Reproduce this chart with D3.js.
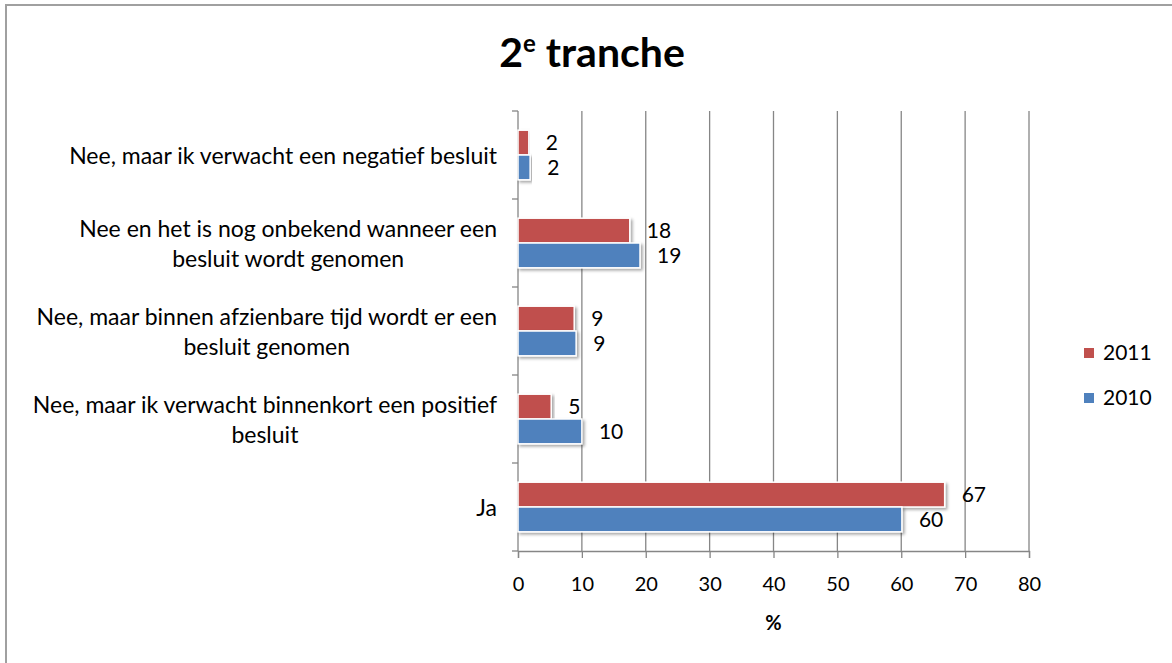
<!DOCTYPE html>
<html>
<head>
<meta charset="utf-8">
<script src="https://cdn.jsdelivr.net/npm/d3@7"></script>
<style>
  body { margin: 0; background: #fff; }
  text { font-family: Lato, "Open Sans", sans-serif; fill: #000; }
</style>
</head>
<body>
<div id="chart"></div>
<script>
// data (top to bottom as drawn)
const categories = [
  "Nee, maar ik verwacht een negatief besluit",
  "Nee en het is nog onbekend wanneer een\nbesluit wordt genomen",
  "Nee, maar binnen afzienbare tijd wordt er een\nbesluit genomen",
  "Nee, maar ik verwacht binnenkort een positief\nbesluit",
  "Ja"
];
const seriesNames = ["2011", "2010"];
const values2011 = [1.7, 17.5, 8.8, 5.2, 66.8];
const values2010 = [1.9, 19.1, 9.1, 10.0, 60.1];
const xTicks = [0, 10, 20, 30, 40, 50, 60, 70, 80];
const colors = { "2011": "#c0504d", "2010": "#4f81bd" };

const width = 1172, height = 663;
const plot = { left: 518, right: 1029, top: 111, bottom: 551 };

const svg = d3.select('#chart').append('svg')
  .attr('width', width)
  .attr('height', height);

// drop shadow for bars
const defs = svg.append('defs');
defs.append('filter').attr('id', 'shadow')
  .attr('x', '-5%').attr('y', '-30%').attr('width', '115%').attr('height', '180%')
  .append('feDropShadow')
  .attr('dx', 2).attr('dy', 2).attr('stdDeviation', 1.5)
  .attr('flood-color', '#000').attr('flood-opacity', 0.35);

// outer border of the chart area
svg.append('rect')
  .attr('x', 6).attr('y', 5)
  .attr('width', 1180).attr('height', 680)
  .attr('fill', 'none')
  .attr('stroke', '#a0a0a0')
  .attr('stroke-width', 2);

// title
const title = svg.append('text')
  .attr('x', 592).attr('y', 67)
  .attr('text-anchor', 'middle')
  .style('font-size', '41px')
  .style('font-weight', 'bold');
title.append('tspan').text('2');
title.append('tspan').text('e').style('font-size', '24px').attr('dy', -15);
title.append('tspan').text(' tranche').attr('dy', 15);

// scales
const x = d3.scaleLinear().domain([0, 80]).range([plot.left, plot.right]);
const gapRatio = 0.436;
const y = d3.scaleBand()
  .domain(categories)
  .range([plot.top, plot.bottom])
  .paddingInner(gapRatio)
  .paddingOuter(gapRatio / 2);
const ySub = d3.scaleBand().domain(seriesNames).range([0, y.bandwidth()]);
const step = y.step();

// vertical gridlines
svg.append('g').selectAll('line')
  .data(xTicks.slice(1))
  .join('line')
  .attr('x1', d => x(d)).attr('x2', d => x(d))
  .attr('y1', plot.top).attr('y2', plot.bottom)
  .attr('stroke', '#868686').attr('stroke-width', 1.3);

// bottom axis
const xAxis = svg.append('g')
  .attr('transform', `translate(0,${plot.bottom})`)
  .call(d3.axisBottom(x).tickValues(xTicks).tickSize(7).tickPadding(19));
xAxis.select('.domain').attr('stroke', '#868686').attr('stroke-width', 1.3);
xAxis.selectAll('.tick line').attr('stroke', '#868686').attr('stroke-width', 1.3);
xAxis.selectAll('.tick text')
  .style('font-size', '20px')
  .style('font-family', 'Lato, sans-serif')
  .attr('fill', '#000');

// left axis line with ticks at band boundaries
svg.append('line')
  .attr('x1', plot.left).attr('x2', plot.left)
  .attr('y1', plot.top).attr('y2', plot.bottom)
  .attr('stroke', '#868686').attr('stroke-width', 1.3);
svg.append('g').selectAll('line')
  .data(d3.range(categories.length + 1))
  .join('line')
  .attr('x1', plot.left - 6).attr('x2', plot.left)
  .attr('y1', i => plot.top + i * step).attr('y2', i => plot.top + i * step)
  .attr('stroke', '#868686').attr('stroke-width', 1.3);

// x axis title
svg.append('text')
  .attr('x', x(40)).attr('y', 630)
  .attr('text-anchor', 'middle')
  .style('font-size', '20px')
  .style('font-weight', 'bold')
  .text('%');

// bars
const rows = categories.map((c, i) => ({
  cat: c,
  vals: [
    { s: "2011", v: values2011[i] },
    { s: "2010", v: values2010[i] }
  ]
}));

const groups = svg.append('g').selectAll('g')
  .data(rows)
  .join('g')
  .attr('transform', d => `translate(0,${y(d.cat)})`);

groups.selectAll('rect')
  .data(d => d.vals)
  .join('rect')
  .attr('x', x(0))
  .attr('y', d => ySub(d.s))
  .attr('width', d => x(d.v) - x(0))
  .attr('height', ySub.bandwidth())
  .attr('fill', d => colors[d.s])
  .attr('stroke', '#fff')
  .attr('stroke-width', 1.5)
  .attr('filter', 'url(#shadow)');

// value labels
groups.selectAll('text.val')
  .data(d => d.vals)
  .join('text')
  .attr('class', 'val')
  .attr('x', d => x(d.v) + 17)
  .attr('y', d => ySub(d.s) + ySub.bandwidth() / 2)
  .attr('dy', '0.35em')
  .style('font-size', '21px')
  .text(d => d3.format('.0f')(d.v));

// category labels: lines centered within a block right-aligned at 497
const labelRight = 497;
const lineGap = 30;
categories.forEach(c => {
  const lines = c.split('\n');
  const cy = y(c) + y.bandwidth() / 2 + 1;
  const t = svg.append('text')
    .attr('text-anchor', 'middle')
    .style('font-size', '23px');
  lines.forEach((ln, i) => {
    t.append('tspan')
      .attr('y', cy + (i - (lines.length - 1) / 2) * lineGap)
      .attr('dy', '0.35em')
      .text(ln);
  });
  let maxW = 0;
  t.selectAll('tspan').each(function () {
    maxW = Math.max(maxW, this.getComputedTextLength());
  });
  t.selectAll('tspan').attr('x', labelRight - maxW / 2);
});

// legend
const legend = svg.append('g').selectAll('g')
  .data(seriesNames)
  .join('g')
  .attr('transform', (d, i) => `translate(1084,${353 + i * 45})`);
legend.append('rect')
  .attr('x', 0).attr('y', -5)
  .attr('width', 10).attr('height', 10)
  .attr('fill', d => colors[d]);
legend.append('text')
  .attr('x', 19).attr('dy', '0.35em')
  .style('font-size', '21px')
  .text(d => d);
</script>
</body>
</html>
